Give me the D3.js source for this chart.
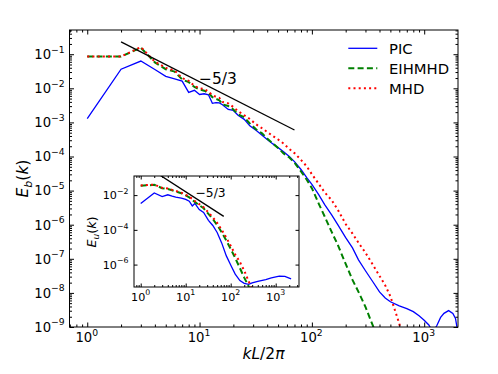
<!DOCTYPE html>
<html>
<head>
<meta charset="utf-8">
<script src="https://cdn.jsdelivr.net/npm/d3@7"></script>
<style>
    body { margin: 0; background: #fff; }
    svg { display: block; font-family: "DejaVu Sans", sans-serif; }
</style>
</head>
<body>
<div class="chart_container"></div>
<script>
//^ DATA (values stored as log10 of the spectrum) //
const kMain = [1, 2, 3, 4, 5, 6, 7, 8, 9, 10, 11, 12, 13, 14, 15, 16, 18, 20, 22, 25, 28, 32, 36, 40, 45, 50, 56, 63, 70,
    80, 90, 100, 115, 130, 150, 170, 200, 230, 260, 300, 350, 400, 450, 500, 600, 700, 800, 900, 1000, 1100, 1200,
    1300, 1400, 1500, 1650, 1800, 1900, 1980, 2048];
const picEb = [-2.89, -1.44, -1.2, -1.45, -1.65, -1.72, -1.79, -2.12, -2.06, -2.18, -2.16, -2.19, -2.44, -2.42, -2.43, -2.48,
    -2.62, -2.65, -2.79, -2.91, -3.1, -3.24, -3.38, -3.5, -3.63, -3.74, -3.86, -4.0, -4.15,
    -4.38, -4.62, -4.82, -5.12, -5.41, -5.71, -6.0, -6.38, -6.68, -7.03, -7.35, -7.68, -7.97, -8.15, -8.26,
    -8.38, -8.46, -8.55, -8.67, -8.8, -8.94, -9.15, -8.95, -8.72, -8.6, -8.52, -8.6, -8.75, -9.1, -10.0];
const eihmhdEb = [-1.07, -1.07, -0.81, -1.24, -1.44, -1.51, -1.74, -1.82, -1.96, -2.03, -2.07, -2.13, -2.26, -2.31, -2.35, -2.47,
    -2.52, -2.62, -2.76, -2.85, -3.03, -3.21, -3.32, -3.47, -3.62, -3.75, -3.91, -4.03, -4.18,
    -4.44, -4.68, -4.93, -5.38, -5.76, -6.21, -6.59, -7.15, -7.62, -7.97, -8.41, -8.97, -9.5];
const mhdEb = [-1.07, -1.07, -0.79, -1.22, -1.4, -1.48, -1.7, -1.78, -1.93, -2.0, -2.02, -2.1, -2.2, -2.25, -2.28, -2.4,
    -2.44, -2.55, -2.67, -2.79, -2.9, -3.06, -3.17, -3.28, -3.4, -3.5, -3.62, -3.78, -3.9,
    -4.1, -4.29, -4.52, -4.8, -5.05, -5.28, -5.56, -5.98, -6.26, -6.53, -6.82, -7.18, -7.5, -7.78, -8.1, -8.9, -9.8];

const kInset = [1, 2, 3, 4, 5, 6, 8, 10, 12, 14, 16, 20, 25, 32, 40, 50, 63, 80, 100, 126, 160, 200, 250, 300, 400, 600,
    800, 1200, 1600, 2200];
const picEu = [-2.48, -1.88, -2.08, -1.98, -2.06, -2.12, -2.17, -2.25, -2.35, -2.62, -2.48, -2.83, -3.0, -3.45, -3.75, -4.15,
    -4.75, -5.5, -6.02, -6.55, -6.92, -7.08, -7.14, -7.05, -6.96, -6.86, -6.76, -6.66, -6.68, -6.82];
const eihmhdEu = [-1.46, -1.41, -1.6, -1.65, -1.72, -1.79, -1.89, -2.02, -2.13, -2.27, -2.4, -2.58, -2.76, -3.08, -3.38, -3.72,
    -4.14, -4.62, -5.1, -5.62, -6.2, -6.75, -7.25, -7.9];
const mhdEu = [-1.44, -1.4, -1.58, -1.62, -1.7, -1.76, -1.86, -1.98, -2.09, -2.22, -2.34, -2.52, -2.7, -3.0, -3.28, -3.6,
    -4.0, -4.45, -4.92, -5.42, -5.85, -6.35, -6.95, -7.45];

//^ REFERENCE SLOPE LINE (k^-5/3) //
const slopeK = [2, 70];
const slopeE = [0.23, 6.0e-4];

//^ TICKS //
const mainXTicks = [0, 1, 2, 3];
const mainYTicks = [-9, -8, -7, -6, -5, -4, -3, -2, -1];
const insetXTicks = [0, 1, 2, 3];
const insetYTicks = [-6, -4, -2];

const legendNames = ["PIC", "EIHMHD", "MHD"];

//^ STYLES //
const styles = [
    { color: "#0000ff", width: 1.3, dash: null },
    { color: "#008000", width: 2, dash: "6,3.3" },
    { color: "#ff0000", width: 2, dash: "2,3.2" },
];

//^ SVG //
const svg = d3.select(".chart_container").append("svg").attr("width", 498).attr("height", 374);
svg.append("rect").attr("width", 498).attr("height", 374).attr("fill", "#fff");

const pairs = (ks, vals) => vals.map((v, i) => [ks[i], Math.pow(10, v)]);

function minorValues(domain) {
    const out = [];
    const lo = Math.floor(Math.log10(domain[0]));
    const hi = Math.ceil(Math.log10(domain[1]));
    for (let e = lo; e <= hi; e++) {
        for (let m = 2; m <= 9; m++) {
            const v = m * Math.pow(10, e);
            if (v > domain[0] && v < domain[1]) out.push(v);
        }
    }
    return out;
}

function drawTicks(g, x, y, xMaj, yMaj, xMin, yMin, big, small) {
    const [x0, x1] = x.range();
    const [y0, y1] = y.range();
    const sides = [
        [d3.axisBottom, `translate(0,${y0})`, x, xMaj, xMin],
        [d3.axisTop, `translate(0,${y1})`, x, xMaj, xMin],
        [d3.axisLeft, `translate(${x0},0)`, y, yMaj, yMin],
        [d3.axisRight, `translate(${x1},0)`, y, yMaj, yMin],
    ];
    sides.forEach(([fn, tr, sc, maj, min]) => {
        [[maj, big], [min, small]].forEach(([vals, len]) => {
            if (!vals.length) return;
            g.append("g")
                .attr("transform", tr)
                .call(fn(sc).tickValues(vals).tickSizeInner(-len).tickSizeOuter(0).tickFormat(""))
                .call((a) => a.select(".domain").remove())
                .call((a) => a.selectAll("text").remove());
        });
    });
    g.append("rect")
        .attr("x", x0).attr("y", y1)
        .attr("width", x1 - x0).attr("height", y0 - y1)
        .attr("fill", "none").attr("stroke", "#000").attr("stroke-width", 1);
}

function powerLabel(g, px, py, exp, anchor, size) {
    const t = g.append("text").attr("x", px).attr("y", py).attr("text-anchor", anchor)
        .attr("font-size", size).attr("fill", "#000");
    t.append("tspan").text("10");
    t.append("tspan").attr("font-size", size * 0.7).attr("dy", -size * 0.48)
        .text(String(exp).replace("-", "\u2212"));
}

function drawSeries(g, x, y, sets, clipId) {
    const line = d3.line().x((d) => x(d[0])).y((d) => y(d[1]));
    const layer = g.append("g").attr("clip-path", `url(#${clipId})`);
    sets.forEach((data, i) => {
        const s = styles[i];
        layer.append("path").datum(data)
            .attr("d", line).attr("fill", "none")
            .attr("stroke", s.color).attr("stroke-width", s.width)
            .attr("stroke-dasharray", s.dash);
    });
    layer.append("path").datum(slopeK.map((k, i) => [k, slopeE[i]]))
        .attr("d", line).attr("fill", "none").attr("stroke", "#000").attr("stroke-width", 1.3);
}

const defs = svg.append("defs");

//^ MAIN AXES //
const x = d3.scaleLog().domain([0.695, 2000]).range([69.5, 458]);
const y = d3.scaleLog().domain([1e-9, Math.pow(10, -0.29)]).range([327, 30]);

defs.append("clipPath").attr("id", "clipMain").append("rect")
    .attr("x", 69.5).attr("y", 30).attr("width", 388.5).attr("height", 297);

const main = svg.append("g");
drawSeries(main, x, y, [pairs(kMain, picEb), pairs(kMain, eihmhdEb), pairs(kMain, mhdEb)], "clipMain");
drawTicks(main, x, y,
    mainXTicks.map((e) => Math.pow(10, e)), mainYTicks.map((e) => Math.pow(10, e)),
    minorValues(x.domain()), minorValues(y.domain()), 4.5, 2.5);

mainXTicks.forEach((e) => powerLabel(main, x(Math.pow(10, e)) - 0.5, 342, e, "middle", 13.2));
mainYTicks.forEach((e) => powerLabel(main, 64.7, y(Math.pow(10, e)) + 4.8, e, "end", 13.2));

main.append("text").attr("x", 199).attr("y", 83.5).attr("font-size", 15.5).text("\u22125/3");

//^ AXIS LABELS //
const yLab = main.append("text").attr("transform", "translate(28,178.5) rotate(-90)")
    .attr("text-anchor", "middle").attr("font-size", 15.5);
yLab.append("tspan").attr("font-style", "italic").text("E");
yLab.append("tspan").attr("font-style", "italic").attr("font-size", 11).attr("dy", 3.5).text("b");
yLab.append("tspan").attr("dy", -3.5).text("(");
yLab.append("tspan").attr("font-style", "italic").text("k");
yLab.append("tspan").text(")");

const xLab = main.append("text").attr("x", 263.5).attr("y", 359)
    .attr("text-anchor", "middle").attr("font-size", 15.5);
xLab.append("tspan").attr("font-style", "italic").text("kL");
xLab.append("tspan").text("/2");
xLab.append("tspan").attr("font-style", "italic").text("\u03c0");

//^ LEGEND //
const legend = main.append("g");
legendNames.forEach((name, i) => {
    const ly = 48.3 + i * 20;
    const s = styles[i];
    legend.append("line").attr("x1", 348.3).attr("x2", 377.3).attr("y1", ly).attr("y2", ly)
        .attr("stroke", s.color).attr("stroke-width", s.width).attr("stroke-dasharray", s.dash);
    legend.append("text").attr("x", 389).attr("y", ly + 5.8).attr("font-size", 14.8).text(name);
});

//^ INSET //
const xi = d3.scaleLog().domain([Math.pow(10, -0.149), Math.pow(10, 3.518)]).range([134, 299]);
const yi = d3.scaleLog().domain([Math.pow(10, -7.29), Math.pow(10, -0.9)]).range([287, 176]);

defs.append("clipPath").attr("id", "clipInset").append("rect")
    .attr("x", 134).attr("y", 176).attr("width", 165).attr("height", 111);

const inset = svg.append("g");
inset.append("rect").attr("x", 134).attr("y", 176).attr("width", 165).attr("height", 111).attr("fill", "#fff");
drawSeries(inset, xi, yi, [pairs(kInset, picEu), pairs(kInset, eihmhdEu), pairs(kInset, mhdEu)], "clipInset");
drawTicks(inset, xi, yi,
    insetXTicks.map((e) => Math.pow(10, e)), insetYTicks.map((e) => Math.pow(10, e)),
    minorValues(xi.domain()), [], 3.5, 2);

insetXTicks.forEach((e) => powerLabel(inset, xi(Math.pow(10, e)), 300.8, e, "middle", 11.2));
insetYTicks.forEach((e) => powerLabel(inset, 128.5, yi(Math.pow(10, e)) + 4.2, e, "end", 11.2));

inset.append("text").attr("x", 195.5).attr("y", 196.5).attr("font-size", 12.3).text("\u22125/3");

const yLabIn = inset.append("text").attr("transform", "translate(95.5,232) rotate(-90)")
    .attr("text-anchor", "middle").attr("font-size", 12.8);
yLabIn.append("tspan").attr("font-style", "italic").text("E");
yLabIn.append("tspan").attr("font-style", "italic").attr("font-size", 9).attr("dy", 3).text("u");
yLabIn.append("tspan").attr("dy", -3).text("(");
yLabIn.append("tspan").attr("font-style", "italic").text("k");
yLabIn.append("tspan").text(")");
</script>
</body>
</html>
